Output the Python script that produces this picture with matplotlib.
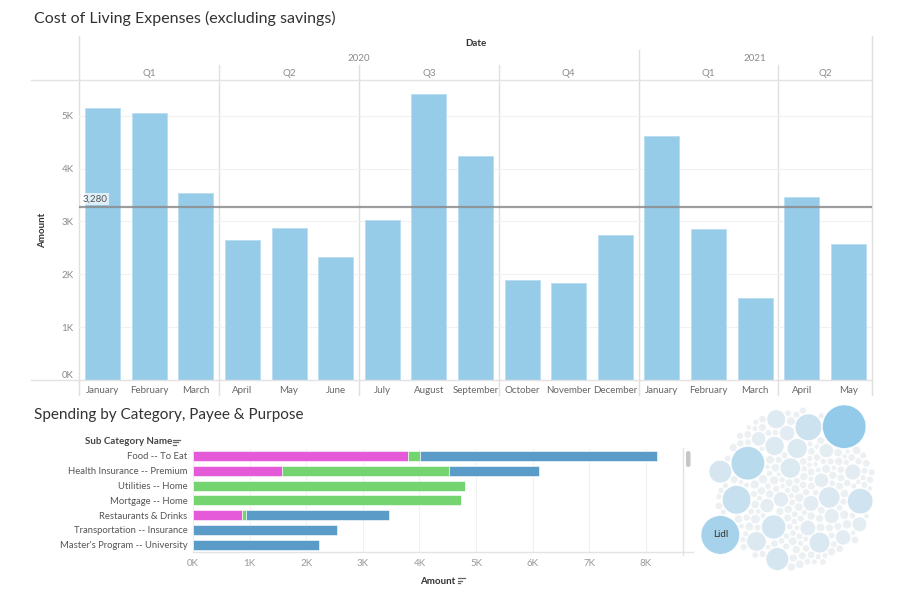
import numpy as np
import matplotlib
matplotlib.use("Agg")
import matplotlib.pyplot as plt
from matplotlib.lines import Line2D
from matplotlib.patches import Circle, FancyBboxPatch
from matplotlib.colors import LinearSegmentedColormap

plt.rcParams['font.family'] = ['Lato', 'DejaVu Sans']

# monthly cost of living, Jan 2020 .. May 2021
months = ["January", "February", "March", "April", "May", "June", "July",
          "August", "September", "October", "November", "December",
          "January", "February", "March", "April", "May"]
years = ["2020"] * 12 + ["2021"] * 5
quarters = ["Q1", "Q1", "Q1", "Q2", "Q2", "Q2", "Q3", "Q3", "Q3",
            "Q4", "Q4", "Q4", "Q1", "Q1", "Q1", "Q2", "Q2"]
amounts = [5150, 5050, 3540, 2640, 2880, 2320, 3020, 5410, 4230,
           1900, 1840, 2740, 4610, 2860, 1560, 3470, 2570]
reference = 3280

# spending by sub category, split in three stacked parts
categories = ["Food -- To Eat", "Health Insurance -- Premium", "Utilities -- Home",
              "Mortgage -- Home", "Restaurants & Drinks", "Transportation -- Insurance",
              "Master's Program -- University"]
part_pink = [3790, 1570, 0, 0, 870, 0, 0]
part_green = [220, 2960, 4810, 4740, 60, 0, 0]
part_blue = [4190, 1590, 0, 0, 2540, 2550, 2230]

# payee totals for the packed bubbles (in packing order)
payee_amounts = [
    180, 110, 150, 90, 130, 80, 200, 120, 560, 70, 160, 100, 1010, 140, 610, 90,
    170, 120, 70, 160, 100, 190, 90, 520, 140, 60, 170, 110, 80, 150, 1120, 130,
    100, 180, 70, 490, 150, 110, 80, 160, 100, 210, 70, 140, 980, 90, 160, 120,
    1440, 80, 190, 110, 590, 70, 150, 100, 180, 130, 80, 2790, 160, 100, 200, 90,
    540, 140, 70, 900, 110, 170, 80, 150, 70, 120, 100, 180, 70, 500, 140, 110,
    2040, 80, 170, 100, 220, 90, 130, 1060, 70, 160, 110, 580, 80, 150, 100, 1770,
    180, 130, 80, 200, 100, 620, 70, 140, 110, 170, 1610, 90, 150, 120, 70, 510,
    140, 80, 940, 110, 180, 100, 4710, 160, 80, 130, 100, 210, 70, 570, 150, 1280,
    110, 170, 90, 130, 70, 870, 150, 80, 190, 110, 1280, 140, 100, 530, 80, 160,
    120, 90, 150, 3720, 110, 180, 80, 130, 100, 160, 70, 140, 90, 120, 80, 100,
    150, 70, 130, 90, 110, 80, 170, 100, 60, 140, 90, 120, 70, 110, 80, 100,
    90, 130, 110, 70, 160, 100, 80, 120, 140, 90, 110, 70, 130, 100, 80, 120,
]
labelled = {"Lidl": 3720}

W, H = 904, 606
fig = plt.figure(figsize=(W / 100, H / 100), dpi=100)


def px_axes(x0, y0, x1, y1):
    return fig.add_axes([x0 / W, 1 - y1 / H, (x1 - x0) / W, (y1 - y0) / H])


def px_line(xs, ys, color="#e3e3e3", lw=1.0):
    fig.add_artist(Line2D([x / W for x in xs], [1 - y / H for y in ys],
                          transform=fig.transFigure, color=color, lw=lw))


def sort_icon(x, y):
    for k, ln in enumerate([7, 5, 3]):
        px_line([x, x + ln], [y + k * 2.6, y + k * 2.6], color="#666", lw=0.9)


def pack(radii, gap):
    # greedy front packing: each circle goes to the free spot nearest the centre,
    # touching two circles already placed
    pos = np.zeros((len(radii), 2))
    if len(radii) > 1:
        pos[1] = (radii[0] + radii[1] + gap, 0)
    for i in range(2, len(radii)):
        c, rr, r = pos[:i], radii[:i], radii[i]
        R = rr + r + gap
        j, k = np.triu_indices(i, 1)
        dv = c[k] - c[j]
        d = np.hypot(dv[:, 0], dv[:, 1])
        sel = (d < R[j] + R[k]) & (d > np.abs(R[j] - R[k]))
        j, k, dv, d = j[sel], k[sel], dv[sel], d[sel]
        a = (R[j] ** 2 - R[k] ** 2 + d ** 2) / (2 * d)
        h = np.sqrt(np.maximum(R[j] ** 2 - a ** 2, 0))
        u = dv / d[:, None]
        perp = np.stack([-u[:, 1], u[:, 0]], axis=1)
        base = c[j] + a[:, None] * u
        cand = np.vstack([base + h[:, None] * perp, base - h[:, None] * perp])
        dist = np.linalg.norm(cand[:, None, :] - c[None], axis=2)
        ok = np.all(dist >= R[None] - 1e-6, axis=1)
        good = cand[ok]
        pos[i] = good[np.argmin(np.hypot(good[:, 0], good[:, 1]))]
    return pos


# ---------- top: monthly bars ----------
fig.text(34 / W, 1 - 18 / H, "Cost of Living Expenses (excluding savings)",
         fontsize=11.5, color="#333", va="center")

ax = px_axes(79.3, 80, 871.7, 380)
x = np.arange(len(months))
ax.bar(x, amounts, width=0.75, color="#97cce9", edgecolor="#b9ddf1", lw=0.6, zorder=2)
ax.set_xlim(-0.5, len(months) - 0.5)
ax.set_ylim(0, 5675)
ax.set_yticks([0, 1000, 2000, 3000, 4000, 5000])
ax.set_yticklabels(["0K", "1K", "2K", "3K", "4K", "5K"])
ax.set_xticks(x)
ax.set_xticklabels(months)
ax.tick_params(axis="y", length=0, pad=4, labelsize=7, labelcolor="#8a8a8a")
ax.tick_params(axis="x", length=0, pad=4, labelsize=7, labelcolor="#666")
ax.get_yticklabels()[0].set_verticalalignment("bottom")
ax.grid(axis="y", color="#f1f1f1", lw=0.8, zorder=0)
for s in ax.spines.values():
    s.set_visible(False)

ax.axhline(reference, color="#8c8c8c", lw=1.6, alpha=0.85, zorder=3)
ax.text(0.004, reference + 60, "{:,}".format(reference), transform=ax.get_yaxis_transform(),
        fontsize=7, color="#555", va="bottom", ha="left", zorder=4,
        bbox=dict(boxstyle="square,pad=0.15", fc="white", ec="none", alpha=0.7))

# header: quarter / year separators and labels
xt = ax.get_xaxis_transform()
bounds = [i for i in range(1, len(months)) if (quarters[i], years[i]) != (quarters[i - 1], years[i - 1])]
for b in bounds:
    top = 1.10 if years[b] != years[b - 1] else 1.05
    ax.axvline(b - 0.5, ymin=-0.05, ymax=top, color="#e0e0e0", lw=1, clip_on=False, zorder=1)
for edge in (-0.5, len(months) - 0.5):
    ax.axvline(edge, ymin=-0.05, ymax=1.147, color="#e0e0e0", lw=1, clip_on=False, zorder=1)
starts = [0] + bounds + [len(months)]
for a, b in zip(starts[:-1], starts[1:]):
    ax.text((a + b - 1) / 2, 1.023, quarters[a], transform=xt, ha="center", va="center",
            fontsize=7, color="#8a8a8a")
for yr in sorted(set(years)):
    idx = [i for i, v in enumerate(years) if v == yr]
    ax.text((idx[0] + idx[-1]) / 2, 1.073, yr, transform=xt, ha="center", va="center",
            fontsize=7, color="#8a8a8a")
ax.text((len(months) - 1) / 2, 1.123, "Date", transform=xt, ha="center", va="center",
        fontsize=7, color="#333", fontweight="bold")
px_line([31, 871.7], [80, 80])
px_line([31, 871.7], [380, 380])
fig.text(43 / W, 1 - 230 / H, "Amount", rotation=90, fontsize=7, color="#333",
         fontweight="bold", ha="center", va="center")

# ---------- bottom left: stacked bars ----------
fig.text(34 / W, 1 - 415 / H, "Spending by Category, Payee & Purpose",
         fontsize=11, color="#333", va="center")
ax2 = px_axes(193, 448.6, 682.7, 552)
y = np.arange(len(categories))
pink = np.array(part_pink)
green = np.array(part_green)
blue = np.array(part_blue)
kw = dict(height=0.68, edgecolor="white", lw=0.4, zorder=2)
ax2.barh(y, pink, color="#e55ad9", **kw)
ax2.barh(y, green, left=pink, color="#74d470", **kw)
ax2.barh(y, blue, left=pink + green, color="#5b9bc7", **kw)
ax2.set_ylim(len(categories) - 0.5, -0.5)
ax2.set_xlim(0, 8650)
ax2.set_yticks(y)
ax2.set_yticklabels(categories)
ax2.set_xticks(np.arange(0, 9000, 1000))
ax2.set_xticklabels(["{}K".format(v) for v in range(9)])
ax2.tick_params(axis="y", length=0, pad=4, labelsize=6.8, labelcolor="#555")
ax2.tick_params(axis="x", length=0, pad=5, labelsize=7, labelcolor="#999")
ax2.grid(axis="x", color="#f1f1f1", lw=0.8, zorder=0)
for s in ax2.spines.values():
    s.set_visible(False)
px_line([193, 693], [552.3, 552.3])
px_line([682.7, 682.7], [448, 555])
fig.add_artist(FancyBboxPatch((686 / W, 1 - 467 / H), 4.5 / W, 16 / H,
                              boxstyle="round,pad=0,rounding_size=0.003",
                              transform=fig.transFigure, fc="#c6c6c6", ec="none"))
fig.text(85 / W, 1 - 442 / H, "Sub Category Name", fontsize=7, color="#444",
         fontweight="bold", va="center")
sort_icon(173, 439.5)
fig.text(420 / W, 1 - 581.5 / H, "Amount", fontsize=7, color="#333",
         fontweight="bold", va="center")
sort_icon(457.5, 578)

# ---------- bottom right: packed bubbles ----------
vals = np.array(payee_amounts, dtype=float)
radii = np.sqrt(vals / 10.0)
pos = pack(radii, gap=0.8)
turn = np.deg2rad(81)  # orientation of the packed cloud
rot = np.array([[np.cos(turn), -np.sin(turn)], [np.sin(turn), np.cos(turn)]])
pos = pos @ rot.T

ax3 = px_axes(698, 398, 878, 578)
lo = (pos - radii[:, None]).min(axis=0)
hi = (pos + radii[:, None]).max(axis=0)
cx, cy = (lo + hi) / 2
ax3.set_xlim(cx - 90, cx + 90)
ax3.set_ylim(cy - 90, cy + 90)
ax3.set_aspect("equal")
ax3.axis("off")
cmap = LinearSegmentedColormap.from_list("tab_blue", ["#eef1f3", "#93cae9"])
for (px_, py_), r, v in zip(pos, radii, vals):
    ax3.add_patch(Circle((px_, py_), r, fc=cmap(v / vals.max()), ec="white", lw=0.4))
for name, v in labelled.items():
    i = int(np.argmin(np.abs(vals - v)))
    ax3.text(pos[i, 0], pos[i, 1], name, ha="center", va="center", fontsize=7, color="#333")

fig.savefig("out.png", dpi=100)
